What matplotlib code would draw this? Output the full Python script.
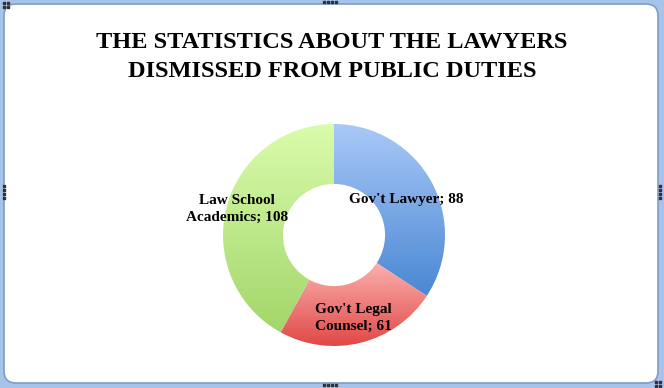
import matplotlib

matplotlib.use("Agg")
import matplotlib.pyplot as plt
import numpy as np
from matplotlib.colors import LinearSegmentedColormap
from matplotlib.patches import FancyBboxPatch

# data
categories = ["Gov't Lawyer", "Gov't Legal\nCounsel", "Law School\nAcademics"]
values = [88, 61, 108]
title = "THE STATISTICS ABOUT THE LAWYERS\nDISMISSED FROM PUBLIC DUTIES"

# gradient colours per slice (top, bottom)
grads = [("#a9c9f7", "#4a87d4"), ("#fbb0ae", "#e04846"), ("#dafcac", "#a3d66a")]

W, H = 664, 388
fig = plt.figure(figsize=(W / 100, H / 100), dpi=100, facecolor="#a8c3ea")
ax = fig.add_axes([0, 0, 1, 1])
ax.set_axis_off()

# chart frame
frame = FancyBboxPatch((4, 5), W - 10, H - 9, boxstyle="round,pad=0,rounding_size=12",
                       facecolor="white", edgecolor="#7d9ccc", linewidth=1.2, zorder=0)
ax.add_patch(frame)

cx, cy, r = 334, H - 235, 111
wedges, _ = ax.pie(values, center=(cx, cy), radius=r, startangle=90, counterclock=False,
                   wedgeprops=dict(width=r * 0.54, linewidth=0, edgecolor="none"),
                   frame=True)

grad = np.linspace(0, 1, 256).reshape(-1, 1)
for w, (c_top, c_bot) in zip(wedges, grads):
    ext = w.get_path().get_extents()
    cmap = LinearSegmentedColormap.from_list("g", [c_top, c_bot])
    w.set_facecolor("none")
    im = ax.imshow(grad, cmap=cmap, aspect="auto", origin="upper",
                   extent=[ext.x0, ext.x1, ext.y0, ext.y1], zorder=2)
    im.set_clip_path(w)

ax.set_xlim(0, W)
ax.set_ylim(0, H)
ax.set_aspect("auto")
ax.set_axis_off()

ax.text(W / 2, H - 57, title, ha="center", va="center", fontsize=17.5,
        fontweight="bold", family="Liberation Serif", linespacing=1.55, zorder=5)

lab_pos = [(406, 199), (353, 318), (237, 209)]
for name, v, (x, y) in zip(categories, values, lab_pos):
    ax.text(x, H - y, f"{name}; {v}", ha="center", va="center", fontsize=11,
            fontweight="bold", family="Liberation Serif", linespacing=1.45, zorder=5)

# selection handles on the frame
hx = [4, 4, 4, 4, W - 4, W - 4, W - 4, W - 4]
hy = [186, 190, 194, 198, 186, 190, 194, 198]
ax.scatter(hx, [H - v for v in hy], s=0.8, color="#333333", marker="s", zorder=6)
tx = [324, 328, 332, 336]
ax.scatter(tx + tx, [H - 2] * 4 + [H - 385] * 4, s=0.8, color="#333333", marker="s", zorder=6)
ax.scatter([4, 8, 4, 8, W - 4, W - 8, W - 4, W - 8], [H - 3, H - 3, H - 7, H - 7, 2, 2, 6, 6],
           s=0.8, color="#333333", marker="s", zorder=6)

fig.savefig("out.png", dpi=100, facecolor=fig.get_facecolor())
